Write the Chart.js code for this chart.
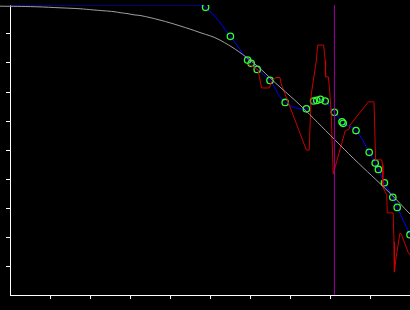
<!DOCTYPE html>
<html>
<head>
<meta charset="utf-8">
<script src="https://cdn.jsdelivr.net/npm/chart.js@4.4.1/dist/chart.umd.min.js"></script>
<style>
    body { margin: 0; background: #000; }
    canvas { display: block; }
</style>
</head>
<body>
<canvas id="grafico" width="410" height="310"></canvas>
<script>
// limites de los ejes (sin etiquetas en el original)
const ejeX = [0, 10];
const ejeY = [0, 10];

// curva gris suave
const grisX = [-0.25, 0.63, 1.3, 1.75, 2.08, 2.35, 2.6, 2.78, 2.95, 3.1, 3.25, 3.75, 4.25, 4.75, 5.25, 6.0, 6.75, 7.25, 8.13, 8.58, 9.5, 10.0];
const grisY = [9.96, 9.94, 9.9, 9.87, 9.83, 9.8, 9.77, 9.73, 9.7, 9.66, 9.64, 9.48, 9.28, 9.05, 8.79, 8.1, 7.17, 6.55, 5.34, 4.72, 3.51, 2.79];

// linea azul con circulos verdes
const azulX = [0, 4.6, 4.89, 5.51, 5.94, 6.03, 6.18, 6.5, 6.88, 7.41, 7.59, 7.67, 7.76, 7.88, 8.11, 8.3, 8.33, 8.65, 8.98, 9.13, 9.21, 9.36, 9.57, 9.68, 10.0];
const azulY = [10, 10, 9.92, 8.92, 8.1, 7.99, 7.78, 7.4, 6.64, 6.42, 6.69, 6.71, 6.75, 6.69, 6.3, 5.97, 5.92, 5.67, 4.92, 4.55, 4.33, 3.87, 3.37, 3.02, 2.08];

// linea roja quebrada
const rojoX = [5.95, 6.2, 6.29, 6.48, 6.55, 6.65, 6.75, 6.78, 7.41, 7.48, 7.53, 7.66, 7.69, 7.84, 7.88, 7.89, 7.96, 7.99, 8.03, 8.08, 8.38, 8.48, 8.5, 8.96, 9.1, 9.14, 9.29, 9.32, 9.32, 9.42, 9.43, 9.58, 9.6, 9.61, 9.65, 9.75, 9.79, 9.96, 10.0];
const rojoY = [7.97, 7.76, 7.14, 7.14, 7.38, 7.5, 7.5, 7.28, 5.0, 5.0, 6.9, 8.1, 8.62, 8.62, 8.1, 7.52, 7.52, 7.07, 6.28, 4.17, 5.66, 5.72, 5.86, 6.66, 6.66, 4.66, 4.66, 4.48, 3.72, 3.45, 2.83, 2.83, 1.83, 0.79, 1.28, 2.14, 2.07, 1.45, 1.38];

// marca vertical
const marcaX = 8.11;

document.addEventListener('DOMContentLoaded', function() {
    inicializarGrafico();
});

function puntos(xs, ys) {
    return xs.map((x, i) => ({ x: x, y: ys[i] }));
}

function inicializarGrafico() {
    const ctx = document.getElementById('grafico').getContext('2d');

    const colorTick = (c) => (c.tick && (c.tick.value === 0 || c.tick.value === 10)) ? 'rgba(0,0,0,0)' : '#ffffff';

    new Chart(ctx, {
        type: 'line',
        data: {
            datasets: [{
                data: [{ x: marcaX, y: ejeY[0] }, { x: marcaX, y: ejeY[1] }],
                borderColor: '#a000a0',
                borderWidth: 1,
                pointRadius: 0,
                order: 0
            }, {
                data: puntos(grisX, grisY),
                borderColor: '#a0a0a0',
                borderWidth: 1,
                pointRadius: 0,
                tension: 0.4,
                clip: false,
                order: 1
            }, {
                data: puntos(rojoX, rojoY),
                borderColor: '#cc0000',
                borderWidth: 1,
                pointRadius: 0,
                tension: 0,
                order: 2
            }, {
                data: puntos(azulX, azulY),
                borderColor: '#0000ff',
                borderWidth: 1,
                tension: 0.4,
                pointRadius: azulX.map((x, i) => i < 2 ? 0 : 3.2),
                pointBorderColor: '#33ff33',
                pointBackgroundColor: 'rgba(0,0,0,0)',
                pointBorderWidth: 1.3,
                order: 3
            }]
        },
        options: {
            responsive: false,
            animation: false,
            events: [],
            layout: {
                autoPadding: false,
                padding: { left: 6, right: 0, top: 5, bottom: 11 }
            },
            scales: {
                x: {
                    type: 'linear',
                    min: ejeX[0],
                    max: ejeX[1],
                    ticks: { display: false, stepSize: 1 },
                    grid: { drawOnChartArea: false, tickLength: 4, color: colorTick },
                    border: { color: '#ffffff', width: 1 }
                },
                y: {
                    min: ejeY[0],
                    max: ejeY[1],
                    ticks: { display: false, stepSize: 1 },
                    grid: { drawOnChartArea: false, tickLength: 4, color: colorTick },
                    border: { color: '#ffffff', width: 1 }
                }
            },
            plugins: {
                legend: { display: false },
                tooltip: { enabled: false }
            }
        }
    });
}
</script>
</body>
</html>
